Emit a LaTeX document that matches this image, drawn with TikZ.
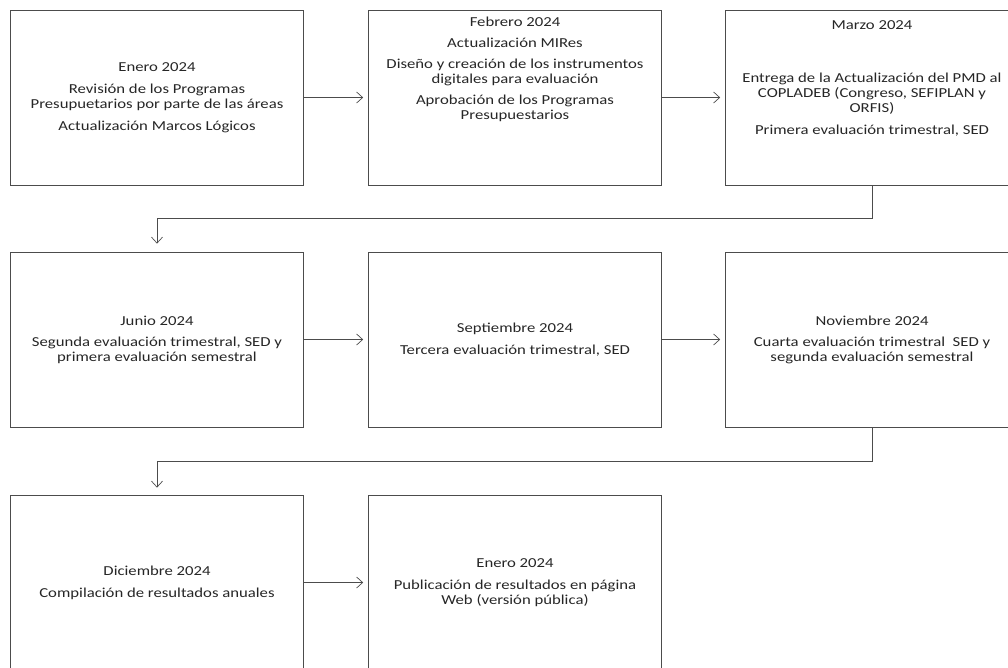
\documentclass[tikz,border=0pt]{standalone}
\usepackage{fontspec}
\setmainfont{Carlito}[FakeStretch=1.22]
\usetikzlibrary{arrows.meta,positioning}
\tikzstyle{stage} = [draw=black!70,line width=0.7pt,minimum width=293pt,minimum height=175pt,inner sep=0pt,align=center,text=black!85,font=\fontsize{13.7}{15}\selectfont]
\tikzstyle{flow} = [draw=black!70,line width=0.7pt,arrows={-Straight Barb[length=6pt,width=11pt]}]
\newcommand{\topblock}[2]{\parbox[c][#1][t]{285pt}{\centering #2}}

\begin{document}
\begin{tikzpicture}[x=1pt,y=-1pt]
                  \useasboundingbox (0,0) rectangle (1008,667);
                  \clip (0,0) rectangle (1008,667);
                  \node (jan)[stage] at (157,97.5) {Enero 2024\\[7pt]Revisión de los Programas\\Presupuetarios por parte de las áreas\\[7pt]Actualización Marcos Lógicos};
                  \node (feb)[stage] at (515,97.5) {\topblock{161pt}{Febrero 2024\\[6pt]Actualización MIRes\\[6pt]Diseño y creación de los instrumentos\\digitales para evaluación\\[6pt]Aprobación de los Programas\\Presupuestarios}};
                  \node (mar)[stage] at (872,97.5) {\topblock{153pt}{Marzo 2024\\[38pt]Entrega de la Actualización del PMD al\\COPLADEB (Congreso, SEFIPLAN y\\ORFIS)\\[7pt]Primera evaluación trimestral, SED}};
                  \node (jun)[stage] at (157,339.5) {Junio 2024\\[6pt]Segunda evaluación trimestral, SED y\\primera evaluación semestral};
                  \node (sep)[stage] at (515,339.5) {Septiembre 2024\\[7pt]Tercera evaluación trimestral, SED};
                  \node (nov)[stage] at (872,339.5) {Noviembre 2024\\[6pt]Cuarta evaluación trimestral~ SED y\\segunda evaluación semestral};
                  \node (dic)[stage] at (157,582.5) {Diciembre 2024\\[7pt]Compilación de resultados anuales};
                  \node (pub)[stage] at (515,582.5) {Enero 2024\\[7pt]Publicación de resultados en página\\Web (versión pública)};

                  \draw[flow,shorten >=5pt] (jan) -- (feb);
                  \draw[flow,shorten >=5pt] (feb) -- (mar);
                  \draw[flow] (mar.south) -- ++(0,33) -| ([yshift=8pt]jun.north);
                  \draw[flow,shorten >=5pt] (jun) -- (sep);
                  \draw[flow,shorten >=5pt] (sep) -- (nov);
                  \draw[flow] (nov.south) -- ++(0,34) -| ([yshift=7pt]dic.north);
                  \draw[flow,shorten >=5pt] (dic) -- (pub);
            \end{tikzpicture}
\end{document}
